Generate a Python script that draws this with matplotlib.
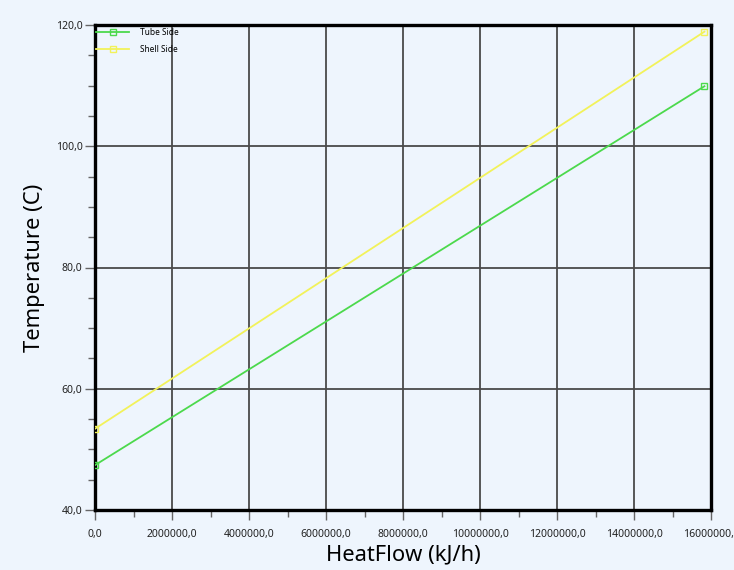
import matplotlib
matplotlib.use("Agg")
import matplotlib.pyplot as plt
from matplotlib.ticker import FuncFormatter, MultipleLocator

heatflow_tube = [0.0, 15830000.0]
temp_tube = [47.4, 109.9]
heatflow_shell = [0.0, 15830000.0]
temp_shell = [53.4, 118.9]
series_names = ["Tube Side", "Shell Side"]

plt.rcParams["font.family"] = ["Noto Sans", "DejaVu Sans"]

bg = "#EEF5FD"
fig = plt.figure(figsize=(7.34, 5.70), dpi=100, facecolor=bg)
ax = fig.add_axes([95/734, 1-510/570, 616/734, 485/570], facecolor=bg)

ax.plot(heatflow_tube, temp_tube, color="#4CD94C", lw=1.3, marker="s", ms=5,
        mfc="none", mec="#4CD94C", label=series_names[0], zorder=3)
ax.plot(heatflow_shell, temp_shell, color="#F2F25A", lw=1.3, marker="s", ms=5,
        mfc="none", mec="#F2F25A", label=series_names[1], zorder=3)

ax.set_xlim(0, 16000000)
ax.set_ylim(40, 120)
ax.xaxis.set_major_locator(MultipleLocator(2000000))
ax.xaxis.set_minor_locator(MultipleLocator(1000000))
ax.yaxis.set_major_locator(MultipleLocator(20))
ax.yaxis.set_minor_locator(MultipleLocator(5))
fmt = FuncFormatter(lambda v, p: f"{v:.1f}".replace(".", ","))
ax.xaxis.set_major_formatter(fmt)
ax.yaxis.set_major_formatter(fmt)

ax.grid(True, which="major", color="#4a4a4a", lw=1.3)
ax.set_axisbelow(True)
for s in ax.spines.values():
    s.set_color("black")
    s.set_linewidth(2.4)
ax.tick_params(which="major", length=7, width=1, color="#666666", labelsize=7.5,
               labelcolor="#222222")
ax.tick_params(axis="x", which="major", pad=7)
ax.tick_params(axis="y", which="major", pad=2)
ax.tick_params(which="minor", length=5, width=1, color="#666666")

ax.set_xlabel("HeatFlow (kJ/h)", fontsize=15.8, va="top")
ax.set_ylabel("Temperature (C)", fontsize=15.8)
ax.xaxis.set_label_coords(0.5, -(544 - 510) / 485)
ax.yaxis.set_label_coords((45 - 95) / 616, 0.5)

leg = ax.legend(loc="upper left", bbox_to_anchor=(0.0, 1 - 2/485), frameon=False,
                fontsize=6, handlelength=4.0, borderaxespad=0.0, borderpad=0.1,
                labelspacing=1.0, handletextpad=1.3)

fig.savefig("out.png", dpi=100, facecolor=bg)
